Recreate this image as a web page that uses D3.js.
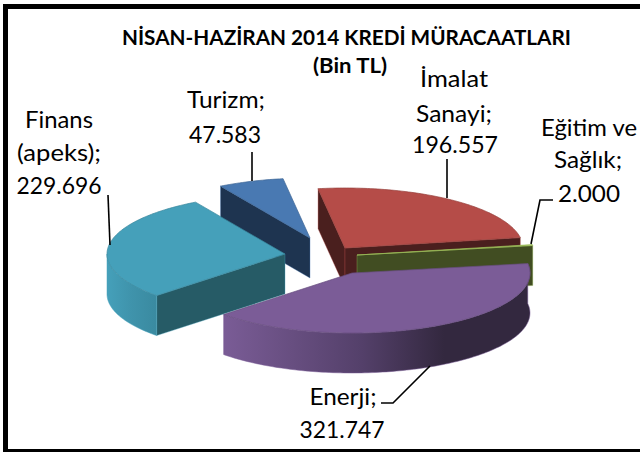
<!DOCTYPE html>
<html><head><meta charset="utf-8">
<script src="https://cdn.jsdelivr.net/npm/d3@7"></script>
<style>html,body{margin:0;padding:0;background:#fff}svg{display:block}text{font-family:Lato,"Open Sans",sans-serif}</style>
</head><body><div id="c"></div>
<script>
const titleLines = ["NİSAN-HAZİRAN 2014 KREDİ MÜRACAATLARI", "(Bin TL)"];
const categories = ["İmalat Sanayi", "Eğitim ve Sağlık", "Enerji", "Finans (apeks)", "Turizm"];
const values = [196557, 2000, 321747, 229696, 47583];
const valueLabels = ["196.557", "2.000", "321.747", "229.696", "47.583"];

const W = 640, H = 452, RX = 178, RY = 60, DEPTH = 40, startDeg = -8.7;
const layout = [
  {c:[345,248], top:"#b54c48", radial:"#4a1f1e", wall:"#4a1f1e", lines:["İmalat","Sanayi;"], lx:[454,454,455], ly:[87,122,153], lw:[68,76,86], leader:[[447,159],[447,198]]},
  {c:[357,255], top:"#9bbb59", radial:"#414d22", wall:"#414d22", lines:["Eğitim ve","Sağlık;"], lx:[589,588,589], ly:[136,168,202], lw:[96,68,62], leader:[[553,200],[540,200],[531,244]]},
  {c:[352,273], top:"#7b5c97", radial:"#33283f", wall:"url(#gE)", lines:["Enerji;"], lx:[343,342], ly:[405,438], lw:[67,85], leader:[[381,403],[393,403],[430,366]]},
  {c:[285,254], top:"#45a0ba", radial:"#265b66", wall:"url(#gF)", lines:["Finans","(apeks);"], lx:[59,59,59], ly:[128,161,194], lw:[68,84,85], leader:[[108,195],[110,245]]},
  {c:[310,238], top:"#4979b2", radial:"#1e3450", wall:"#1e3450", lines:["Turizm;"], lx:[226,225], ly:[108,143], lw:[78,72], leader:[[252,152],[252,181]]}
];
const drawOrder = [4,0,3,1,2];

const pie = d3.pie().sort(null).startAngle(startDeg*Math.PI/180).endAngle((startDeg+360)*Math.PI/180);
const arcs = pie(values);
const svg = d3.select("#c").append("svg").attr("width",W).attr("height",H);
const defs = svg.append("defs");
function grad(id,stops){
  const g = defs.append("linearGradient").attr("id",id);
  stops.forEach(s=>g.append("stop").attr("offset",s[0]).attr("stop-color",s[1]));
}
grad("gE",[[0,"#7a5c96"],[0.45,"#54406a"],[0.72,"#33283f"],[1,"#33283f"]]);
grad("gF",[[0,"#45a0ba"],[0.5,"#3f93ab"],[1,"#3a8aa0"]]);

const line = d3.line();
const px = (c,a,dy=0)=>[c[0]+RX*Math.sin(a), c[1]-RY*Math.cos(a)+dy];
function arcPts(c,a0,a1,dy=0){
  const n = Math.max(2,Math.ceil(Math.abs(a1-a0)/0.02));
  return d3.range(n+1).map(i=>px(c,a0+(a1-a0)*i/n,dy));
}
drawOrder.forEach(i=>{
  const d = arcs[i], L = layout[i], c = L.c, a0 = d.startAngle, a1 = d.endAngle;
  const g = svg.append("g");
  const wallStroke = L.top;
  const wall = (ang,fill)=>{
    const p = px(c,ang), q=[c[0],c[1]];
    g.append("path").attr("d",line([q,p,[p[0],p[1]+DEPTH],[q[0],q[1]+DEPTH]])+"Z")
      .attr("fill",fill).attr("stroke",wallStroke).attr("stroke-width",0.6).attr("stroke-opacity",0.6);
  };
  if(i===0){ wall(a0,L.radial); wall(a1,L.radial); }
  if(i===1){ wall(a1,L.radial); }
  if(i===3){ wall(a0,L.radial); }
  if(i===4){ wall(a0,L.radial); }
  const lo = Math.max(a0,Math.PI/2), hi = Math.min(a1,1.5*Math.PI);
  if(hi>lo){
    const from = (i===2)? a0 : lo;
    const top = arcPts(c,from,hi), bot = arcPts(c,hi,from,DEPTH);
    g.append("path").attr("d",line(top.concat(bot))+"Z").attr("fill",L.wall)
      .attr("stroke",L.top).attr("stroke-width",0.5);
  }
  g.append("path").attr("d",line([c].concat(arcPts(c,a0,a1)))+"Z")
    .attr("fill",L.top).attr("stroke",i===1?"#9bbb59":d3.color(L.top).darker(0.5)).attr("stroke-width",0.7).attr("stroke-linejoin","round");
});

layout.forEach(L=>{
  svg.append("path").attr("d",line(L.leader)).attr("fill","none").attr("stroke","#000").attr("stroke-width",1.6);
});
layout.forEach((L,i)=>{
  const rows = L.lines.concat(valueLabels[i]);
  rows.forEach((t,k)=>{
    svg.append("text").attr("x",L.lx[k]).attr("y",L.ly[k]).attr("text-anchor","middle")
      .attr("font-size",23).attr("fill","#000")
      .attr("textLength",L.lw[k]).attr("lengthAdjust","spacingAndGlyphs").text(t);
  });
});
const titleLayout = [{x:346.5,y:45,w:449},{x:350,y:73,w:74}];
titleLines.forEach((t,k)=>{
  svg.append("text").attr("x",titleLayout[k].x).attr("y",titleLayout[k].y).attr("text-anchor","middle")
    .attr("font-size",20).attr("font-weight",700).attr("fill","#000")
    .attr("textLength",titleLayout[k].w).attr("lengthAdjust","spacingAndGlyphs").text(t);
});
// frame: left, top and bottom bars only; the right edge is cropped in the reference
const frame = [[[3,4],[8,4],[8,449.5],[3,449.5]],[[3,4],[640,4],[640,9],[3,9]],[[3,449],[640,449],[640,452],[3,452]]];
frame.forEach(f=>svg.append("path").attr("d",line(f)+"Z").attr("fill","#000"));
</script></body></html>
